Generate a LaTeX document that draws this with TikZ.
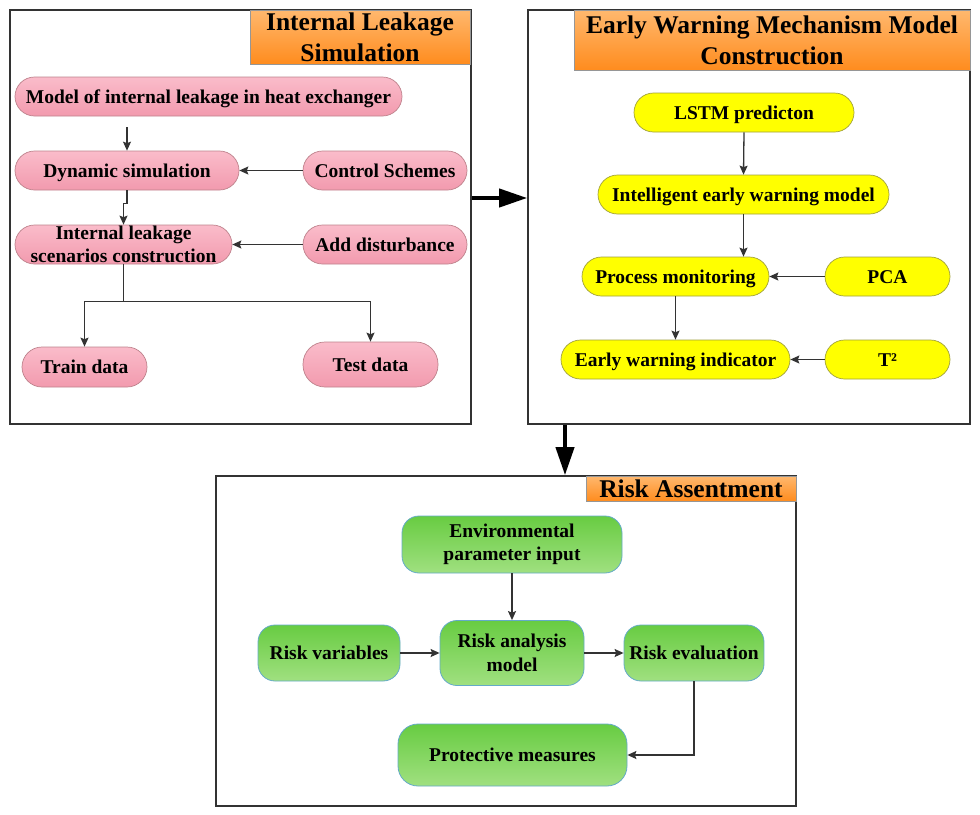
\documentclass[tikz,border=0pt]{standalone}
\usepackage{fontspec}
\setmainfont{Liberation Serif}
\usetikzlibrary{arrows.meta,calc}
\definecolor{pinkT}{RGB}{250,188,202}
\definecolor{pinkB}{RGB}{242,154,174}
\definecolor{pinkD}{RGB}{190,130,140}
\definecolor{yel}{RGB}{255,255,0}
\definecolor{yelD}{RGB}{160,160,60}
\definecolor{grT}{RGB}{104,204,66}
\definecolor{grB}{RGB}{160,224,128}
\definecolor{grD}{RGB}{100,170,200}
\definecolor{orT}{RGB}{255,184,110}
\definecolor{orB}{RGB}{255,140,30}
\definecolor{orD}{RGB}{150,150,150}
\definecolor{ln}{RGB}{51,51,51}
\tikzset{
  frame/.style={draw=ln,line width=1.6pt},
  titlebox/.style={draw=orD,line width=0.8pt,top color=orT,bottom color=orB,inner sep=0pt,align=center,font=\fontsize{25.5}{31}\selectfont\bfseries},
  pill/.style={draw=pinkD,line width=0.7pt,top color=pinkT,bottom color=pinkB,rounded corners=19.5pt,minimum height=39pt,inner sep=0pt,align=center,font=\fontsize{19.5}{22.5}\selectfont\bfseries},
  ybox/.style={pill,draw=yelD,top color=yel,bottom color=yel},
  gbox/.style={draw=grD,line width=0.8pt,top color=grT,bottom color=grB,rounded corners=17pt,inner sep=0pt,align=center,font=\fontsize{19.5}{23.5}\selectfont\bfseries},
  oneline/.style={text height=13.5pt,text depth=0pt},
  arr/.style={draw=ln,line width=1.3pt,-{Stealth[length=9pt,width=8pt,inset=1.5pt]}},
  bigarr/.style={draw=black,line width=4pt,-{Triangle[length=28pt,width=18pt]}}
}
\begin{document}
\begin{tikzpicture}[x=1pt,y=-1pt]
\useasboundingbox (0,0) rectangle (980,814);
% frames
\node[frame,minimum width=461pt,minimum height=414pt,inner sep=0pt] (leftf) at (240.5,217) {};
\node[frame,minimum width=442pt,minimum height=414pt,inner sep=0pt] (rightf) at (749,217) {};
\node[frame,minimum width=580pt,minimum height=330pt,inner sep=0pt] (riskf) at (506,641) {};
% titles
\node[titlebox,minimum width=220pt,minimum height=54pt] (t1) at (360,37) {Internal Leakage\\Simulation};
\node[titlebox,minimum width=396pt,minimum height=60pt] (t2) at (772,40) {Early Warning Mechanism Model\\Construction};
\node[titlebox,minimum width=210pt,minimum height=25pt,oneline,text height=17pt] (t3) at (691,488.5) {Risk Assentment};
% left panel
\node[pill,oneline,minimum width=387pt] (model) at (208.5,96.5) {Model of internal leakage in heat exchanger};
\node[pill,oneline,minimum width=224pt] (dyn) at (127,170.5) {Dynamic simulation};
\node[pill,oneline,minimum width=164pt] (ctrl) at (385,170.5) {Control Schemes};
\node[pill,minimum width=217pt] (int) at (123.5,244.5) {Internal leakage\\scenarios construction};
\node[pill,oneline,minimum width=164pt] (dist) at (385,244.5) {Add disturbance};
\node[pill,oneline,minimum width=125pt,minimum height=40pt,rounded corners=20pt] (train) at (84.5,367) {Train data};
\node[pill,oneline,minimum width=135pt,minimum height=45pt,rounded corners=22pt] (test) at (370.5,364.5) {Test data};
\draw[arr] ([yshift=-11pt]model.south -| dyn.north) coordinate (mtop) -- (dyn.north);
\draw[arr] (dyn.south) -- ++(0,13) -| (int.north);
\draw[arr] (ctrl.west) -- (dyn.east);
\draw[arr] (dist.west) -- (int.east);
\draw[arr] (int.south) -- ++(0,37) -| (train.north);
\draw[arr] (int.south) -- ++(0,37) -| (test.north);
% right panel
\node[ybox,oneline,minimum width=220pt] (lstm) at (744,112.5) {LSTM predicton};
\node[ybox,oneline,minimum width=291pt] (iew) at (743.5,194.5) {Intelligent early warning model};
\node[ybox,oneline,minimum width=187pt] (proc) at (675.5,276.5) {Process monitoring};
\node[ybox,oneline,minimum width=125pt] (pca) at (887.5,276.5) {PCA};
\node[ybox,oneline,minimum width=229pt] (ewi) at (675.5,359.5) {Early warning indicator};
\node[ybox,oneline,minimum width=125pt] (t2n) at (887.5,359.5) {T²};
\draw[arr] (lstm.south) -- (iew.north);
\draw[arr] (iew.south) -- (iew.south |- proc.north);
\draw[arr] (proc.south) -- (ewi.north);
\draw[arr] (pca.west) -- (proc.east);
\draw[arr] (t2n.west) -- (ewi.east);
% big arrows
\draw[bigarr] (leftf.east |- 0,198) -- (rightf.west |- 0,198);
\draw[bigarr] (rightf.south -| 565,0) -- (riskf.north -| 565,0);
% risk panel
\node[gbox,minimum width=220pt,minimum height=57pt] (env) at (512,544.5) {Environmental\\parameter input};
\node[gbox,oneline,minimum width=142pt,minimum height=56pt] (rv) at (329,653) {Risk variables};
\node[gbox,minimum width=144pt,minimum height=65pt] (ram) at (512,653) {Risk analysis\\model};
\node[gbox,oneline,minimum width=140pt,minimum height=56pt] (re) at (694,653) {Risk evaluation};
\node[gbox,oneline,minimum width=229pt,minimum height=62pt,rounded corners=20pt] (pm) at (512.5,755) {Protective measures};
\draw[arr] (env.south) -- (ram.north);
\draw[arr] (rv.east) -- (ram.west);
\draw[arr] (ram.east) -- (re.west);
\draw[arr] (re.south) |- (pm.east);
\end{tikzpicture}
\end{document}
